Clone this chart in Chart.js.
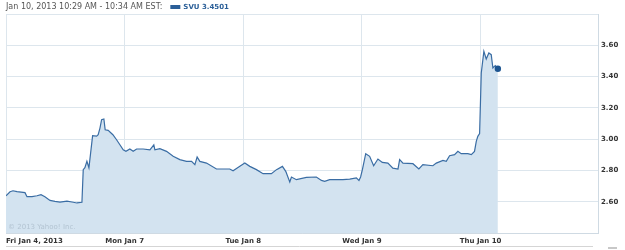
<!DOCTYPE html>
<html>
<head>
<meta charset="utf-8">
<script src="https://cdn.jsdelivr.net/npm/chart.js@4/dist/chart.umd.min.js"></script>
<style>
  html, body { margin: 0; padding: 0; background: #fff; }
  #wrap { width: 625px; height: 250px; position: relative; }
</style>
</head>
<body>
<div id="wrap"><canvas id="chart" width="625" height="250"></canvas></div>
<script>
// trading days since Fri Jan 4 open (each day has the same width)
const days = [
    0.000, 0.034, 0.059, 0.093, 0.160, 0.177, 0.219, 0.261, 0.295, 0.328,
    0.371, 0.413, 0.455, 0.514, 0.556, 0.598, 0.640, 0.651, 0.665, 0.682,
    0.699, 0.730, 0.764, 0.777, 0.792, 0.806, 0.825, 0.836, 0.861, 0.901,
    0.932, 0.960, 0.988, 1.011, 1.044, 1.072, 1.101, 1.156, 1.213, 1.246,
    1.255, 1.297, 1.353, 1.409, 1.465, 1.522, 1.564, 1.592, 1.611, 1.634,
    1.690, 1.774, 1.886, 1.914, 1.971, 2.013, 2.055, 2.111, 2.167, 2.237,
    2.280, 2.330, 2.358, 2.392, 2.406, 2.448, 2.532, 2.616, 2.659, 2.686,
    2.728, 2.840, 2.897, 2.953, 2.975, 2.989, 3.004, 3.032, 3.065, 3.099,
    3.135, 3.172, 3.219, 3.261, 3.304, 3.318, 3.346, 3.430, 3.480, 3.514,
    3.598, 3.627, 3.683, 3.711, 3.739, 3.781, 3.809, 3.837, 3.893, 3.922,
    3.949, 3.964, 3.977, 3.992, 4.006, 4.028, 4.048, 4.070, 4.090, 4.104,
    4.124, 4.146
];

// SVU price
const prices = [
    2.638, 2.664, 2.670, 2.664, 2.658, 2.632, 2.632, 2.638, 2.645, 2.632,
    2.608, 2.602, 2.598, 2.604, 2.598, 2.592, 2.596, 2.805, 2.817, 2.858,
    2.817, 3.022, 3.019, 3.028, 3.071, 3.124, 3.129, 3.060, 3.056, 3.028,
    2.996, 2.964, 2.932, 2.922, 2.937, 2.922, 2.937, 2.937, 2.932, 2.964,
    2.932, 2.939, 2.922, 2.890, 2.869, 2.858, 2.858, 2.837, 2.886, 2.858,
    2.847, 2.809, 2.809, 2.798, 2.826, 2.847, 2.826, 2.805, 2.779, 2.779,
    2.805, 2.826, 2.794, 2.726, 2.758, 2.741, 2.755, 2.758, 2.736, 2.730,
    2.741, 2.741, 2.745, 2.752, 2.736, 2.758, 2.805, 2.907, 2.890, 2.830,
    2.873, 2.851, 2.847, 2.815, 2.809, 2.869, 2.847, 2.843, 2.809, 2.837,
    2.830, 2.847, 2.864, 2.858, 2.894, 2.901, 2.922, 2.907, 2.907, 2.901,
    2.922, 2.986, 3.018, 3.035, 3.423, 3.561, 3.512, 3.551, 3.540, 3.455,
    3.470, 3.4501
];

const dayLabels = ['Fri Jan 4, 2013', 'Mon Jan 7', 'Tue Jan 8', 'Wed Jan 9', 'Thu Jan 10'];
const yTicks = [2.40, 2.60, 2.80, 3.00, 3.20, 3.40, 3.60, 3.80];
const titleText = 'Jan 10, 2013 10:29 AM - 10:34 AM EST:';
const seriesName = 'SVU 3.4501';

const GRID = '#dde6ed';
const BLUE = '#2b5f98';

// header, x labels, watermark
const decorations = {
    id: 'decorations',
    afterDraw(chart) {
        const ctx = chart.ctx;
        const area = chart.chartArea;
        const xs = chart.scales.x;
        ctx.save();

        // header
        ctx.textBaseline = 'middle';
        ctx.textAlign = 'left';
        ctx.font = '8px "DejaVu Sans"';
        ctx.fillStyle = '#555';
        ctx.fillText(titleText, 6, 7);
        const w = ctx.measureText(titleText).width;
        ctx.fillStyle = BLUE;
        ctx.fillRect(6 + w + 8, 5, 10, 4);
        ctx.font = 'bold 7px "DejaVu Sans"';
        ctx.fillText(seriesName, 6 + w + 21, 7);

        // day labels
        ctx.font = 'bold 7px "DejaVu Sans"';
        ctx.fillStyle = '#333';
        dayLabels.forEach((lbl, i) => {
            const x = xs.getPixelForValue(i);
            ctx.textAlign = i === 0 ? 'left' : 'center';
            ctx.fillText(lbl, i === 0 ? area.left : x, area.bottom + 8);
        });

        // watermark
        ctx.textAlign = 'left';
        ctx.font = '7px "DejaVu Sans"';
        ctx.fillStyle = '#b3c4d2';
        ctx.fillText('\u00a9 2013 Yahoo! Inc.', area.left + 2, area.bottom - 6);

        // bottom rule
        ctx.strokeStyle = '#d5d5d5';
        ctx.lineWidth = 1;
        ctx.beginPath();
        ctx.moveTo(area.left, 246.5);
        ctx.lineTo(area.right - 5, 246.5);
        ctx.stroke();
        ctx.fillStyle = '#c8c8c8';
        ctx.fillRect(608, 247, 9, 2);
        ctx.restore();
    }
};

new Chart(document.getElementById('chart'), {
    type: 'line',
    data: {
        datasets: [{
            label: 'SVU',
            data: days.map((d, i) => ({ x: d, y: prices[i] })),
            borderColor: '#3a6da4',
            borderWidth: 1.2,
            backgroundColor: '#d3e3f0',
            fill: 'start',
            tension: 0,
            pointRadius: ctx => ctx.dataIndex === prices.length - 1 ? 3.2 : 0,
            pointBackgroundColor: '#1d5591',
            pointBorderWidth: 0
        }]
    },
    options: {
        responsive: false,
        animation: false,
        layout: { padding: { left: 6, top: 14, right: 0, bottom: 17 } },
        plugins: {
            legend: { display: false },
            tooltip: { enabled: false }
        },
        scales: {
            x: {
                type: 'linear',
                min: 0,
                max: 4.99,
                z: 1,
                ticks: { display: false, stepSize: 1 },
                grid: { color: GRID, drawTicks: false },
                border: { color: '#cfdae3' }
            },
            y: {
                position: 'right',
                min: yTicks[0],
                max: yTicks[yTicks.length - 1],
                z: 1,
                afterBuildTicks: scale => {
                    scale.ticks = yTicks.map(v => ({ value: v }));
                },
                afterFit: scale => { scale.width = 27; },
                ticks: {
                    padding: 3,
                    color: '#333',
                    font: { family: 'DejaVu Sans', size: 7, weight: 'bold' },
                    callback: v => (v <= 2.41 || v >= 3.79) ? '' : v.toFixed(2)
                },
                grid: { color: GRID, drawTicks: false },
                border: { color: '#cfdae3' }
            }
        }
    },
    plugins: [decorations]
});
</script>
</body>
</html>
